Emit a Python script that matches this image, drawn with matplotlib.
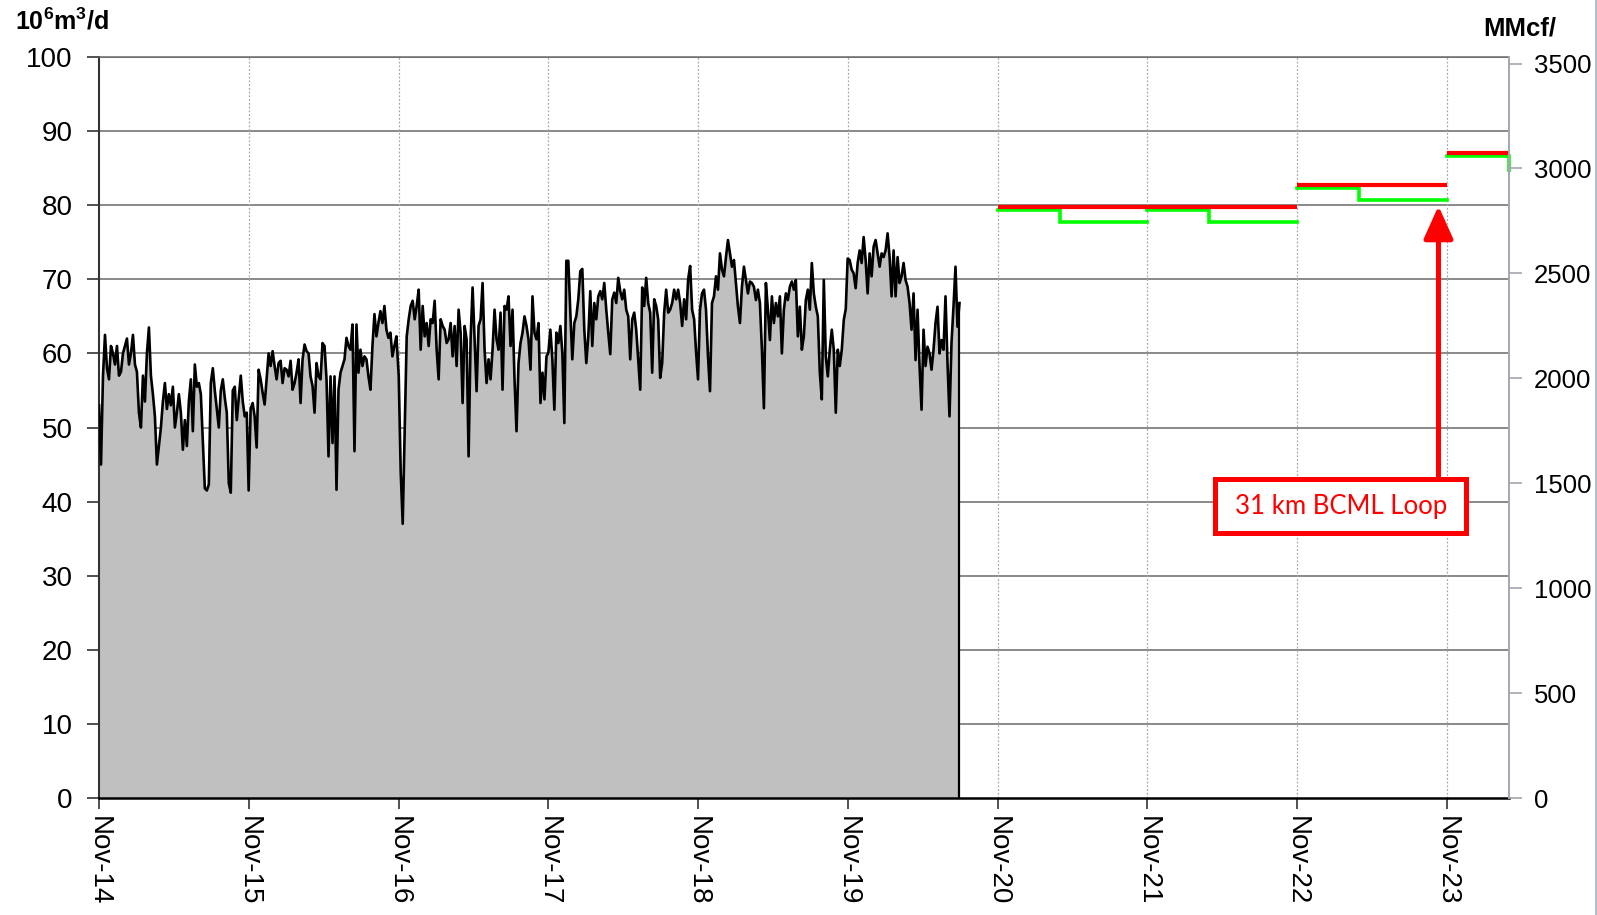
import matplotlib
matplotlib.use('Agg')
import matplotlib.pyplot as plt
import matplotlib.dates as mdates
from matplotlib.patches import Rectangle
from matplotlib.lines import Line2D
import pandas as pd

plt.rcParams['font.family'] = ['Liberation Sans', 'DejaVu Sans']
plt.rcParams['mathtext.fontset'] = 'custom'
plt.rcParams['mathtext.rm'] = 'Liberation Sans'
plt.rcParams['mathtext.bf'] = 'Liberation Sans:bold'

# ---------------- data ----------------
# historical daily throughput (10^6 m3/d), 75 samples per gas year
year_starts = ['2014-11-01', '2015-11-01', '2016-11-01', '2017-11-01', '2018-11-01', '2019-11-01']
samples_per_year = 75

flow_2014 = [53, 45, 57, 62.5, 58, 56.5, 61, 60, 58.5, 61,
             57, 57.5, 60, 61, 62, 58.5, 60, 62.5, 58.5, 57.5,
             52, 50, 57, 53.5, 60, 63.5, 57, 54.5, 51.5, 45,
             47.5, 50, 53.5, 56, 52.5, 54.5, 53, 55.5, 50, 52,
             54.5, 52, 47, 51, 47.5, 53.5, 56.5, 49.5, 58.5, 55.5,
             56, 54.5, 48, 41.8, 41.5, 42.3, 56, 58, 55, 52.5,
             50, 55, 56.5, 54, 52, 42.5, 41.2, 55, 55.5, 51,
             54, 57, 53.5, 51.5, 52]
flow_2015 = [41.5, 52.5, 53.3, 51.5, 47.3, 57.8, 56.5, 54.7, 53.1, 56.5,
             60, 58.3, 60.3, 58.3, 56.5, 58.7, 59, 56, 58, 57.8,
             56.9, 59, 55.1, 56, 57.4, 59.2, 53.3, 59.2, 61.2, 60.3,
             60, 56.9, 55.6, 52, 58.7, 56.9, 56.5, 61.4, 61, 56.5,
             46.1, 56.9, 47.9, 56.9, 41.6, 55.1, 57.4, 58.3, 59.2, 62.1,
             61, 60.5, 63.9, 46.8, 63.9, 57.4, 60.5, 58.3, 59.6, 59.2,
             56.9, 55.1, 61, 65.3, 62.3, 64.1, 65.7, 64.1, 66.4, 63.2,
             62.1, 62.8, 59.6, 61, 62.3]
flow_2016 = [57, 44, 37, 50, 62.3, 64.6, 66.4, 67.1, 64.6, 66.4,
             68.6, 60.5, 66.4, 62.3, 64.1, 61, 64.6, 64.1, 67.1, 60.5,
             56.5, 64.6, 63.7, 63.2, 61.4, 61.9, 64.1, 59.6, 63.7, 58.3,
             65.9, 62.8, 53.3, 63.7, 61.9, 46.1, 61.9, 68.9, 62, 54.9,
             63.7, 64.6, 69.5, 60.5, 56, 59.2, 56.5, 60.5, 65.9, 61.9,
             60.5, 65.5, 55.1, 66.4, 65.9, 67.7, 61, 65.9, 56.5, 49.5,
             58.7, 61.4, 62.8, 65, 63.7, 61.9, 57.8, 67.7, 62.8, 61.9,
             64.1, 53.3, 57.4, 53.8, 59.6]
flow_2017 = [60.1, 63.2, 59.2, 52.4, 62.8, 61.4, 63.7, 60.1, 50.6, 72.5,
             72.5, 65.5, 59.2, 64.1, 65, 67.3, 71.1, 71.4, 63.2, 58.7,
             62.3, 68.4, 61, 66.8, 64.6, 67.7, 68.4, 67.3, 69.5, 65.9,
             62.8, 59.9, 67.3, 68.2, 66.8, 70.2, 68.4, 67.3, 68.6, 65.9,
             65, 59.2, 64.6, 65.5, 63.2, 59.2, 55.1, 68.9, 66.4, 70.2,
             66.8, 65.5, 57.4, 67.3, 66.4, 64.6, 56.7, 58.7, 65.5, 68.6,
             65.5, 65.9, 66.8, 68.6, 67.3, 68.6, 66.8, 63.7, 67.3, 64.6,
             70, 71.8, 65.9, 64.6, 60.1]
flow_2018 = [56.5, 65.9, 68.1, 68.6, 65.9, 59.6, 54.9, 66.8, 67.7, 70.4,
             68.6, 73.5, 71.3, 70.4, 73, 75.3, 73.5, 71.7, 72.6, 69.5,
             66.3, 64.1, 69, 71.7, 69.9, 68.1, 69.7, 69.5, 69, 67.2,
             68.6, 66.8, 60.5, 52.6, 69.5, 65.9, 61.8, 67.7, 64.1, 66.8,
             65, 67.7, 60, 65.9, 68.1, 67.2, 69, 69.7, 68.6, 69.9,
             62.3, 66.3, 60.5, 62.3, 67.2, 68.6, 65.9, 72.2, 68.1, 66.3,
             65, 57.4, 53.8, 69.9, 59.6, 56.9, 60.5, 63.2, 60.5, 52,
             60.5, 58.3, 60.5, 64.5, 66]
flow_2019 = [72.8, 72.6, 71.3, 70.8, 68.8, 72.2, 73.9, 72.2, 75.7, 72.6,
             68.1, 73.5, 70.4, 74.4, 75.3, 73.5, 71.7, 73.5, 73, 73.9,
             76.2, 73, 67.7, 73.9, 67.7, 73, 69.5, 70.4, 72.2, 69.9,
             69, 66.8, 63.2, 68.1, 59.1, 65.9, 58.3, 52.4, 63.2, 58.3,
             60.9, 60, 57.8, 60.5, 64.1, 66.3, 60, 61.8, 60.5, 67.7,
             58.7, 51.5, 61.4, 66.3, 71.7, 63.6, 66.8]

# forecast (10^6 m3/d) per gas year: red = capacity, green = winter / summer demand
forecast_year_starts = ['2020-11-01', '2021-11-01', '2022-11-01', '2023-11-01']
summer_start = ['2021-04-01', '2022-04-01', '2023-04-01', '2024-04-01']
forecast_year_ends = ['2021-11-01', '2022-11-01', '2023-11-01', '2024-04-01']
red_capacity = [79.8, 79.8, 82.7, 87.0]
green_winter = [79.4, 79.4, 82.3, 86.6]
green_summer = [77.7, 77.7, 80.7, 84.8]

x_ticks = ['2014-11-01', '2015-11-01', '2016-11-01', '2017-11-01', '2018-11-01',
           '2019-11-01', '2020-11-01', '2021-11-01', '2022-11-01', '2023-11-01']
left_ticks = [0, 10, 20, 30, 40, 50, 60, 70, 80, 90, 100]
right_ticks = [0, 500, 1000, 1500, 2000, 2500, 3000, 3500]
MMCF_PER_E6M3 = 35.31

annotation_text = '31 km BCML Loop'

# ---------------- build series ----------------
all_years = [flow_2014, flow_2015, flow_2016, flow_2017, flow_2018, flow_2019]
dates, values = [], []
for start, vals in zip(year_starts, all_years):
    s = pd.Timestamp(start)
    for i, v in enumerate(vals):
        dates.append((s + pd.Timedelta(days=i * 365.25 / samples_per_year)).to_pydatetime())
        values.append(v)

def d(s):
    return pd.Timestamp(s).to_pydatetime()

# ---------------- figure ----------------
W, H = 1597, 915
fig = plt.figure(figsize=(W / 100, H / 100), dpi=100)
ax = fig.add_axes([99 / W, 1 - 798 / H, (1509 - 99) / W, (798 - 57) / H])

ax.set_xlim(d('2014-11-01'), d('2024-04-01'))
ax.set_ylim(0, 100)

# grid
for v in left_ticks[1:]:
    ax.axhline(v, color='#6a6a6a', lw=1.1, zorder=1)
for t in x_ticks[1:]:
    ax.axvline(d(t), color='#a8a8a8', lw=0.9, ls=(0, (1.5, 1.5)), zorder=1)

# historical area
ax.fill_between(dates, values, 0, color='#c0c0c0', lw=0, zorder=2)
ax.plot(dates, values, color='black', lw=1.9, zorder=3)
ax.vlines(dates[-1], 0, values[-1], color='black', lw=1.6, zorder=3)

# forecast lines
for ys, ss, ye, w, s in zip(forecast_year_starts, summer_start, forecast_year_ends, green_winter, green_summer):
    ax.plot([d(ys), d(ss), d(ss), d(ye)], [w, w, s, s], color='#00ff00', lw=2.6,
            solid_joinstyle='miter', zorder=4, clip_on=False)
for ys, ye, r in zip(forecast_year_starts, forecast_year_ends, red_capacity):
    ax.plot([d(ys), d(ye)], [r, r], color='#ff0000', lw=3.0, solid_capstyle='butt', zorder=5)

# annotation box + arrow
arrow_x = d('2023-10-12')
ax.annotate('', xy=(arrow_x, 79.9), xytext=(arrow_x, 43.4),
            arrowprops=dict(arrowstyle='-|>,head_length=1.0,head_width=0.45', color='#ff0000',
                            lw=3.6, mutation_scale=20, shrinkA=0, shrinkB=0), zorder=6)
bx0 = mdates.date2num(d('2022-04-16'))
bx1 = mdates.date2num(d('2023-12-18'))
ax.add_patch(Rectangle((bx0, 35.7), bx1 - bx0, 7.4, facecolor='white', edgecolor='#ff0000',
                       lw=3.6, zorder=7, joinstyle='miter'))
ax.text((bx0 + bx1) / 2, 39.3, annotation_text, color='#ff0000', fontsize=18.5,
        family=['Lato', 'DejaVu Sans'], ha='center', va='center', zorder=8)

# axes styling
ax.set_xticks([d(t) for t in x_ticks])
ax.xaxis.set_major_formatter(mdates.DateFormatter('%b-%y'))
ax.set_yticks(left_ticks)
ax.tick_params(axis='x', direction='out', length=8, width=1.2, color='#333333',
               labelsize=20, pad=5)
ax.tick_params(axis='y', direction='out', length=9, width=1.2, color='#333333',
               labelsize=20, pad=10)
for lab in ax.get_xticklabels():
    lab.set_rotation(270)
    lab.set_ha('center')
    lab.set_va('top')
ax.spines['left'].set_color('#333333')
ax.spines['left'].set_linewidth(1.5)
ax.spines['bottom'].set_color('black')
ax.spines['bottom'].set_linewidth(1.8)
ax.spines['top'].set_color('#6a6a6a')
ax.spines['top'].set_linewidth(1.1)
ax.spines['right'].set_visible(False)

ax2 = ax.twinx()
ax2.set_ylim(0, 100 * MMCF_PER_E6M3)
ax2.set_yticks(right_ticks)
ax2.tick_params(axis='y', direction='out', length=9, width=1.2, color='#a6a6b2',
                labelsize=18.5, pad=9)
for sp in ['left', 'top', 'bottom']:
    ax2.spines[sp].set_visible(False)
ax2.spines['right'].set_color('#a6a6b2')
ax2.spines['right'].set_linewidth(1.4)

fig.text(15 / W, 1 - 8 / H, r'$\mathbf{10^{6}m^{3}/d}$', fontsize=18, ha='left', va='top')
fig.text(1483 / W, 1 - 16 / H, 'MMcf/', fontsize=18.5, fontweight='bold', ha='left', va='top')

fig.add_artist(Line2D([1595.5 / W, 1595.5 / W], [0, 1], color='#a6b0c0', lw=1.2))

fig.savefig('out.png', dpi=100)
